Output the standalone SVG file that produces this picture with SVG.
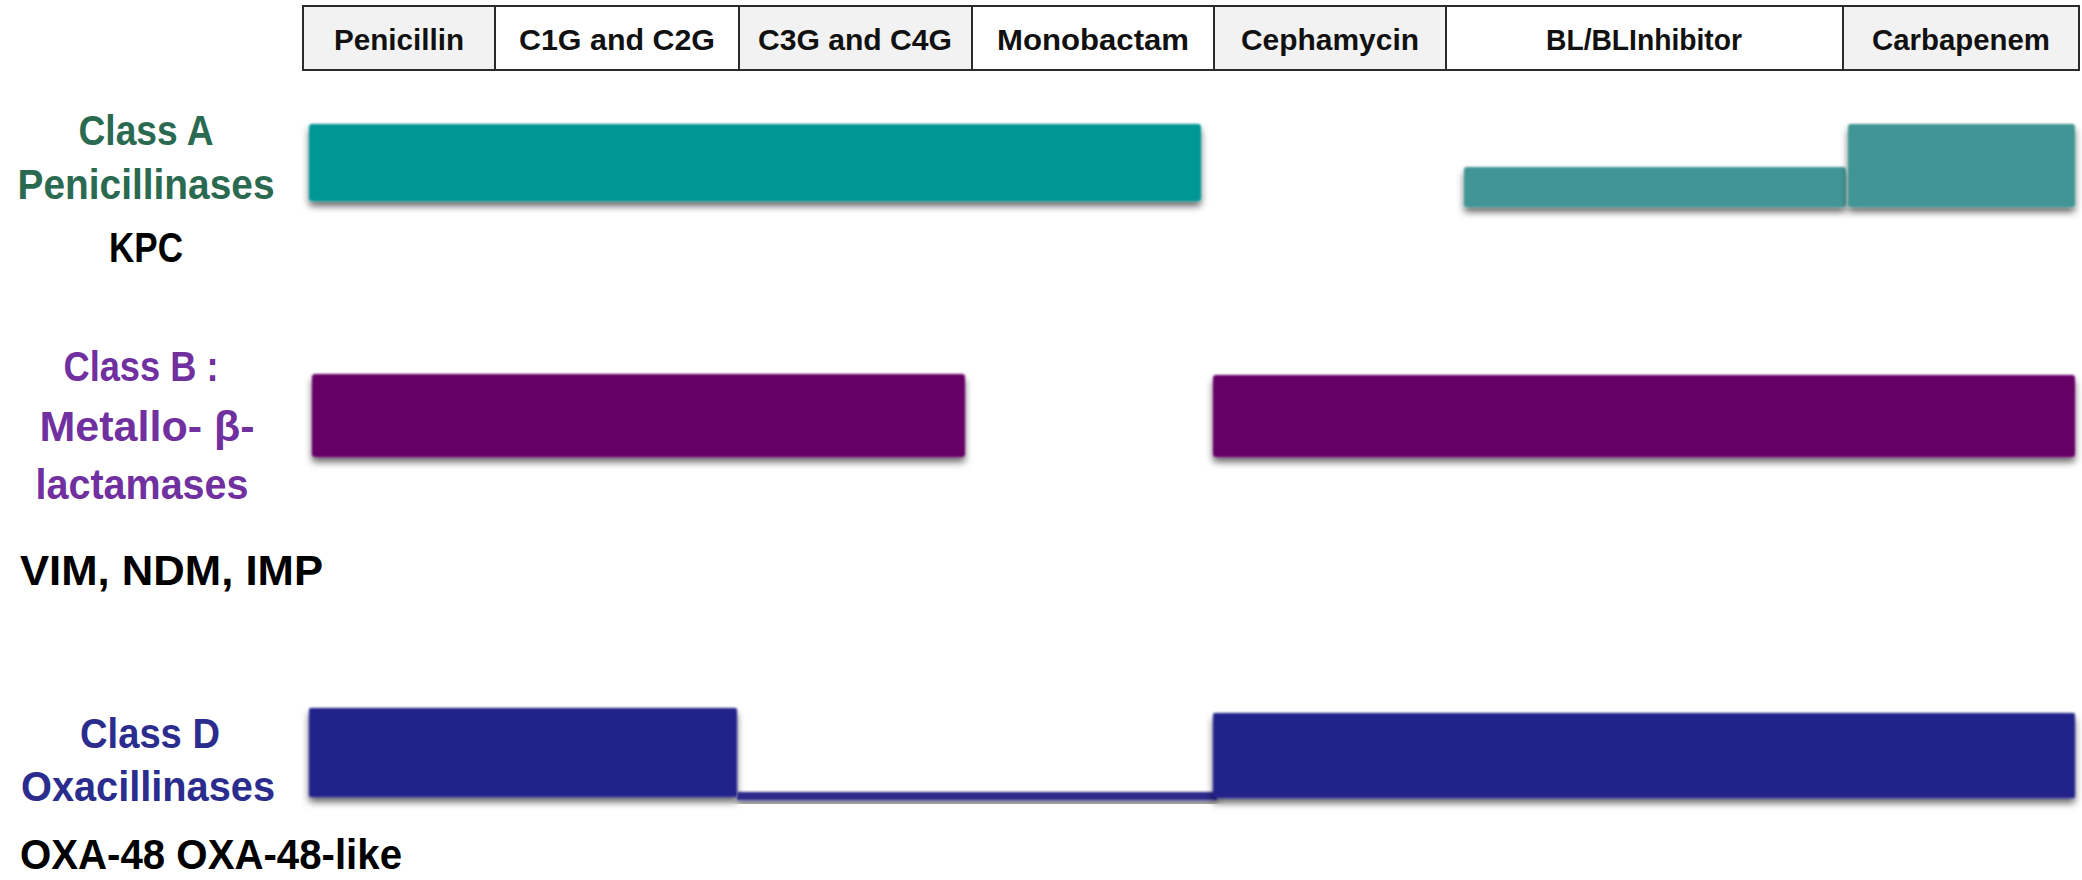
<svg xmlns="http://www.w3.org/2000/svg" width="2082" height="880" viewBox="0 0 2082 880">
<style>
.hdr{stroke:#2b2b2b;stroke-width:2}
.g{fill:#f2f2f2}
.w{fill:#ffffff}
.ht{font-family:"Liberation Sans",Arial,sans-serif;font-weight:bold;font-size:30px;fill:#111;text-anchor:middle}
.lb{font-family:"Liberation Sans",Arial,sans-serif;font-weight:bold;font-size:42px;text-anchor:middle}
.lk{font-family:"Liberation Sans",Arial,sans-serif;font-weight:bold;font-size:42px;fill:#000}
.ca{fill:#2a6a50}
.cb{fill:#7030a0}
.cd{fill:#2b2d8e}
.bar{filter:url(#sh)}
</style>
<defs>
<filter id="sh" x="-5%" y="-30%" width="110%" height="170%">
<feGaussianBlur in="SourceGraphic" stdDeviation="1.3" result="b"/>
<feDropShadow in="b" dx="0" dy="5" stdDeviation="3.5" flood-color="#000" flood-opacity="0.6"/>
</filter>
</defs>
<g id="header">
<rect class="hdr g" x="303" y="6" width="192" height="64"/>
<rect class="hdr w" x="495" y="6" width="244" height="64"/>
<rect class="hdr g" x="739" y="6" width="233" height="64"/>
<rect class="hdr w" x="972" y="6" width="242" height="64"/>
<rect class="hdr g" x="1214" y="6" width="232" height="64"/>
<rect class="hdr w" x="1446" y="6" width="397" height="64"/>
<rect class="hdr g" x="1843" y="6" width="236" height="64"/>
<text class="ht" x="399" y="50" textLength="130" lengthAdjust="spacingAndGlyphs">Penicillin</text>
<text class="ht" x="617" y="50" textLength="196" lengthAdjust="spacingAndGlyphs">C1G and C2G</text>
<text class="ht" x="855" y="50" textLength="194" lengthAdjust="spacingAndGlyphs">C3G and C4G</text>
<text class="ht" x="1093" y="50" textLength="192" lengthAdjust="spacingAndGlyphs">Monobactam</text>
<text class="ht" x="1330" y="50" textLength="178" lengthAdjust="spacingAndGlyphs">Cephamycin</text>
<text class="ht" x="1644" y="50" textLength="196" lengthAdjust="spacingAndGlyphs">BL/BLInhibitor</text>
<text class="ht" x="1961" y="50" textLength="178" lengthAdjust="spacingAndGlyphs">Carbapenem</text>
</g>
<g id="classA">
<text class="lb ca" x="146" y="145" textLength="135" lengthAdjust="spacingAndGlyphs">Class A</text>
<text class="lb ca" x="146" y="199" textLength="257" lengthAdjust="spacingAndGlyphs">Penicillinases</text>
<text class="lb" x="146" y="262" fill="#000" textLength="74" lengthAdjust="spacingAndGlyphs">KPC</text>
<rect class="bar" x="309" y="124" width="892" height="77" rx="3" fill="#009696"/>
<rect class="bar" x="1464" y="167" width="382" height="40" rx="3" fill="#439595"/>
<rect class="bar" x="1848" y="124" width="227" height="83" rx="3" fill="#439595"/>
</g>
<g id="classB">
<text class="lb cb" x="141" y="381" textLength="155" lengthAdjust="spacingAndGlyphs">Class B :</text>
<text class="lb cb" x="147" y="441" textLength="215" lengthAdjust="spacingAndGlyphs">Metallo- β-</text>
<text class="lb cb" x="142" y="499" textLength="213" lengthAdjust="spacingAndGlyphs">lactamases</text>
<text class="lk" x="20" y="585" textLength="303" lengthAdjust="spacingAndGlyphs">VIM, NDM, IMP</text>
<rect class="bar" x="312" y="374" width="653" height="83" rx="3" fill="#660066"/>
<rect class="bar" x="1213" y="375" width="862" height="82" rx="3" fill="#660066"/>
</g>
<g id="classD">
<text class="lb cd" x="150" y="748" textLength="140" lengthAdjust="spacingAndGlyphs">Class D</text>
<text class="lb cd" x="148" y="801" textLength="254" lengthAdjust="spacingAndGlyphs">Oxacillinases</text>
<text class="lk" x="20" y="869" textLength="382" lengthAdjust="spacingAndGlyphs">OXA-48 OXA-48-like</text>
<rect class="bar" x="309" y="708" width="428" height="89" rx="2" fill="#23238b"/>
<rect class="bar" x="737" y="792" width="480" height="8" fill="#2a2a8a"/>
<rect class="bar" x="1213" y="713" width="862" height="85" rx="2" fill="#23238b"/>
</g>
</svg>
